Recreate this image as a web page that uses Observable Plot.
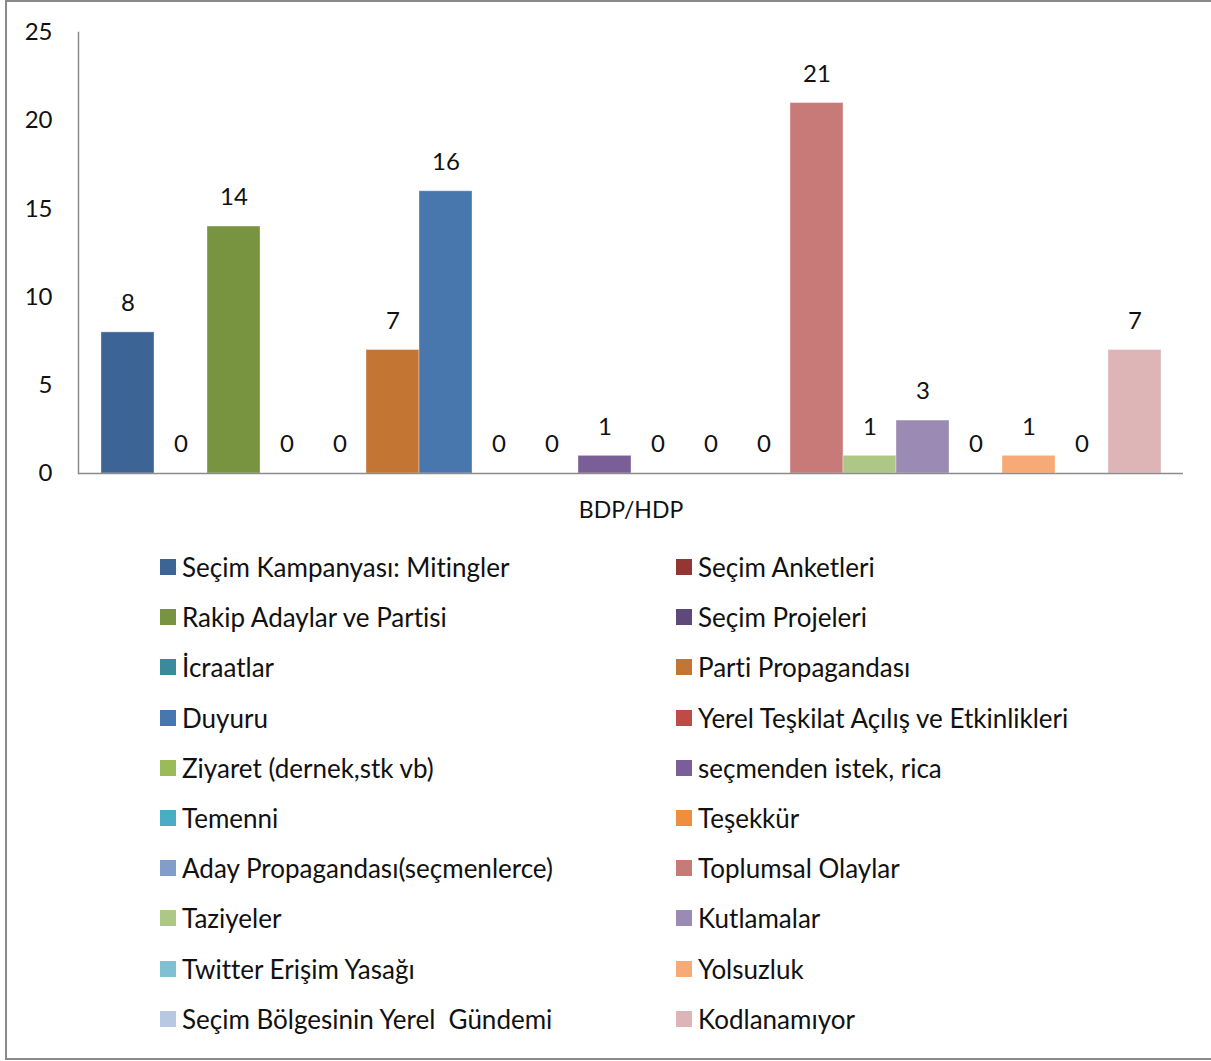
<!DOCTYPE html>
<html>
<head>
<meta charset="utf-8">
<script src="https://cdn.jsdelivr.net/npm/d3@7"></script>
<script src="https://cdn.jsdelivr.net/npm/@observablehq/plot@0.6"></script>
<style>
  html, body { margin: 0; padding: 0; background: #fff; overflow: hidden; }
  #wrap { position: relative; width: 1211px; height: 1061px; overflow: hidden; font-family: Lato, "Open Sans", sans-serif; font-variant-ligatures: none; }
  #border { position: absolute; left: 5px; top: 0px; width: 1230px; height: 1056px; border: 2px solid #8a8a8a; box-sizing: content-box; }
  #chart { position: absolute; left: 0; top: 0; }
  .leg { position: absolute; display: flex; align-items: center; font-size: 26px; color: #111; white-space: nowrap; line-height: 1; font-variant-ligatures: none; }
  .sw { width: 16px; height: 16px; margin-right: 6px; flex: none; }
</style>
</head>
<body>
<div id="wrap">
  <div id="border"></div>
  <div id="chart"></div>
  <div id="legend"></div>
</div>
<script>
const categoryLabel = "BDP/HDP";
const seriesNames = [
  "Seçim Kampanyası: Mitingler",
  "Seçim Anketleri",
  "Rakip Adaylar ve Partisi",
  "Seçim Projeleri",
  "İcraatlar",
  "Parti Propagandası",
  "Duyuru",
  "Yerel Teşkilat Açılış ve Etkinlikleri",
  "Ziyaret (dernek,stk vb)",
  "seçmenden istek, rica",
  "Temenni",
  "Teşekkür",
  "Aday Propagandası(seçmenlerce)",
  "Toplumsal Olaylar",
  "Taziyeler",
  "Kutlamalar",
  "Twitter Erişim Yasağı",
  "Yolsuzluk",
  "Seçim Bölgesinin Yerel  Gündemi",
  "Kodlanamıyor"
];
const seriesValues = [8, 0, 14, 0, 0, 7, 16, 0, 0, 1, 0, 0, 0, 21, 1, 3, 0, 1, 0, 7];
const seriesColors = [
  "#3c6494", "#943634", "#789441", "#5f497a", "#3a8a9b",
  "#c37534", "#4877ae", "#be4b48", "#9bbb59", "#7a5e98",
  "#4bacc6", "#ee8f3f", "#809ec9", "#c87a79", "#adc786",
  "#9b8ab3", "#7fc1d3", "#f8aa76", "#b8c8e3", "#ddb5b6"
];
const yTicks = [0, 5, 10, 15, 20, 25];

const data = seriesNames.map((name, i) => ({name, value: seriesValues[i]}));

const chart = Plot.plot({
  width: 1211,
  height: 540,
  marginLeft: 78,
  marginRight: 28,
  marginTop: 32,
  marginBottom: 67,
  style: {fontFamily: "Lato, 'Open Sans', sans-serif", fontSize: "24px", color: "#111", background: "transparent"},
  x: {domain: seriesNames, paddingInner: 0, paddingOuter: 0.39, axis: null},
  y: {domain: [0, 25], ticks: yTicks, label: null},
  color: {domain: seriesNames, range: seriesColors},
  marks: [
    Plot.barY(data, {x: "name", y: "value", fill: "name", stroke: "white", strokeOpacity: 0.35, strokeWidth: 1}),
    Plot.text(data, {x: "name", y: "value", text: d => String(d.value), dy: -29, fontSize: 24, fill: "#111"}),
    Plot.axisY({ticks: yTicks, tickSize: 0, tickPadding: 26, fontSize: 24, label: null}),
    Plot.ruleY([0], {stroke: "#8c8c8c", strokeWidth: 1.5}),
    Plot.frame({anchor: "left", stroke: "#8c8c8c", strokeWidth: 1.5}),
    Plot.text([categoryLabel], {frameAnchor: "bottom", dy: 44, fontSize: 23, fill: "#111"})
  ]
});
document.getElementById("chart").appendChild(chart);

const legend = document.getElementById("legend");
seriesNames.forEach((name, i) => {
  const row = Math.floor(i / 2), col = i % 2;
  const el = document.createElement("div");
  el.className = "leg";
  el.style.left = (col === 0 ? 160 : 676) + "px";
  el.style.top = (567 + row * 50.2 - 13) + "px";
  el.style.height = "26px";
  const sw = document.createElement("span");
  sw.className = "sw";
  sw.style.background = seriesColors[i];
  const tx = document.createElement("span");
  tx.textContent = name;
  tx.style.whiteSpace = "pre";
  el.appendChild(sw);
  el.appendChild(tx);
  legend.appendChild(el);
});
</script>
</body>
</html>
